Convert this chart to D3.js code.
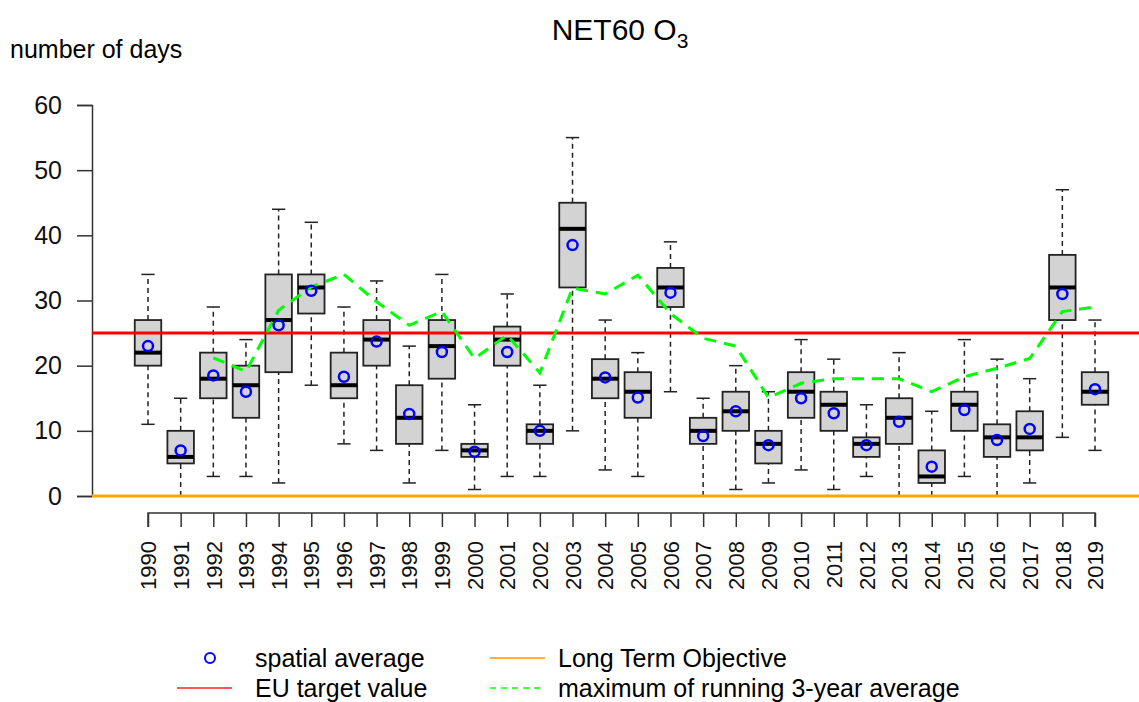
<!DOCTYPE html>
<html>
<head>
<meta charset="utf-8">
<script src="https://cdn.jsdelivr.net/npm/d3@7"></script>
<style>
  body { margin: 0; background: #fff; }
  svg { display: block; font-family: "Liberation Sans", Arial, sans-serif; }
</style>
</head>
<body>
<div id="chart"></div>
<script>
const years = d3.range(1990, 2020);
const whiskerLow = [11, 0, 3, 3, 2, 17, 8, 7, 2, 7, 1, 3, 3, 10, 4, 3, 16, 0, 1, 2, 4, 1, 3, 0, 0, 3, 0, 2, 9, 7];
const q1 =         [20, 5, 15, 12, 19, 28, 15, 20, 8, 18, 6, 20, 8, 32, 15, 12, 29, 8, 10, 5, 12, 10, 6, 8, 2, 10, 6, 7, 27, 14];
const median =     [22, 6, 18, 17, 27, 32, 17, 24, 12, 23, 7, 24, 10, 41, 18, 16, 32, 10, 13, 8, 16, 14, 8, 12, 3, 14, 9, 9, 32, 16];
const q3 =         [27, 10, 22, 20, 34, 34, 22, 27, 17, 27, 8, 26, 11, 45, 21, 19, 35, 12, 16, 10, 19, 16, 9, 15, 7, 16, 11, 13, 37, 19];
const whiskerHigh =[34, 15, 29, 24, 44, 42, 29, 33, 23, 34, 14, 31, 17, 55, 27, 22, 39, 15, 20, 16, 24, 21, 14, 22, 13, 24, 21, 18, 47, 27];
const spatialMean =[23, 7, 18.5, 16, 26.2, 31.5, 18.3, 23.7, 12.6, 22.1, 6.8, 22.1, 10, 38.5, 18.2, 15.1, 31.2, 9.2, 13, 7.8, 15, 12.7, 7.8, 11.4, 4.5, 13.2, 8.6, 10.3, 31, 16.4];
const runMaxYears = d3.range(1992, 2020);
const runMax =     [21.2, 19.1, 28.5, 32.1, 34, 29.8, 26.2, 28.3, 21.1, 24.7, 18.9, 31.9, 31, 33.9, 28, 24.2, 23, 15.1, 17.3, 18, 18, 18, 16, 18.3, 19.6, 21.1, 28.3, 29];
const yTicks = [0, 10, 20, 30, 40, 50, 60];
const euTarget = 25;
const longTerm = 0;

const width = 1139, height = 702;
const svg = d3.select('#chart').append('svg')
  .attr('width', width).attr('height', height);

const x = d3.scalePoint().domain(years).range([148, 1095]);
const y = d3.scaleLinear().domain([0, 60]).range([496, 105]);
const boxW = 26.5;

// title + y label
const title = svg.append('text')
  .attr('x', 620).attr('y', 40)
  .attr('text-anchor', 'middle')
  .attr('font-size', 30)
  .text('NET60 O');
title.append('tspan').attr('font-size', 21).attr('dy', 8).text('3');

svg.append('text').attr('x', 10).attr('y', 58)
  .attr('font-size', 25).text('number of days');

// y axis
const yAxis = svg.append('g').attr('transform', 'translate(92,0)')
  .call(d3.axisLeft(y).tickValues(yTicks).tickSize(15).tickPadding(15));
yAxis.selectAll('path, line').attr('stroke', '#333').attr('stroke-width', 1.5);
yAxis.selectAll('text').attr('font-size', 25).attr('fill', '#111')
  .attr('font-family', '"Liberation Sans", Arial, sans-serif');

// x axis
const xAxis = svg.append('g').attr('transform', 'translate(0,513)')
  .call(d3.axisBottom(x).tickSize(14).tickSizeOuter(0));
xAxis.select('.domain').attr('d', `M${x(1990)},14V0H${x(2019)}V14`);
xAxis.selectAll('path, line').attr('stroke', '#333').attr('stroke-width', 1.5);
xAxis.selectAll('text')
  .attr('font-size', 22).attr('fill', '#111')
  .attr('font-family', '"Liberation Sans", Arial, sans-serif')
  .attr('transform', 'rotate(-90)')
  .attr('text-anchor', 'end')
  .attr('x', -28).attr('y', 0).attr('dy', '0.35em');

// boxplots
const boxes = svg.append('g').selectAll('g').data(years).enter().append('g')
  .attr('transform', d => `translate(${x(d)},0)`);

boxes.append('line')
  .attr('y1', (d, i) => y(whiskerLow[i])).attr('y2', (d, i) => y(q1[i]))
  .attr('stroke', '#222').attr('stroke-width', 1.5).attr('stroke-dasharray', '5,4');
boxes.append('line')
  .attr('y1', (d, i) => y(q3[i])).attr('y2', (d, i) => y(whiskerHigh[i]))
  .attr('stroke', '#222').attr('stroke-width', 1.5).attr('stroke-dasharray', '5,4');
boxes.append('line')
  .attr('x1', -boxW / 4).attr('x2', boxW / 4)
  .attr('y1', (d, i) => y(whiskerLow[i])).attr('y2', (d, i) => y(whiskerLow[i]))
  .attr('stroke', '#222').attr('stroke-width', 1.5);
boxes.append('line')
  .attr('x1', -boxW / 4).attr('x2', boxW / 4)
  .attr('y1', (d, i) => y(whiskerHigh[i])).attr('y2', (d, i) => y(whiskerHigh[i]))
  .attr('stroke', '#222').attr('stroke-width', 1.5);
boxes.append('rect')
  .attr('x', -boxW / 2).attr('width', boxW)
  .attr('y', (d, i) => y(q3[i])).attr('height', (d, i) => y(q1[i]) - y(q3[i]))
  .attr('fill', '#d3d3d3').attr('stroke', '#222').attr('stroke-width', 1.8);
boxes.append('line')
  .attr('x1', -boxW / 2).attr('x2', boxW / 2)
  .attr('y1', (d, i) => y(median[i])).attr('y2', (d, i) => y(median[i]))
  .attr('stroke', '#000').attr('stroke-width', 4);

// reference lines
svg.append('line').attr('x1', 92).attr('x2', width)
  .attr('y1', y(euTarget)).attr('y2', y(euTarget))
  .attr('stroke', '#ff0000').attr('stroke-width', 3);
svg.append('line').attr('x1', 92).attr('x2', width)
  .attr('y1', y(longTerm)).attr('y2', y(longTerm))
  .attr('stroke', '#ffa500').attr('stroke-width', 3);

// running max line
const line = d3.line().x((d, i) => x(runMaxYears[i])).y(d => y(d));
svg.append('path').datum(runMax)
  .attr('d', line).attr('fill', 'none')
  .attr('stroke', '#00ff00').attr('stroke-width', 3)
  .attr('stroke-dasharray', '12,8');

// spatial averages
svg.append('g').selectAll('circle').data(years).enter().append('circle')
  .attr('cx', d => x(d)).attr('cy', (d, i) => y(spatialMean[i]))
  .attr('r', 5).attr('fill', 'none')
  .attr('stroke', '#0000ff').attr('stroke-width', 2.5);

// legend
const legend = svg.append('g').attr('font-size', 25);
legend.append('circle').attr('cx', 210).attr('cy', 658).attr('r', 5)
  .attr('fill', 'none').attr('stroke', '#0000ff').attr('stroke-width', 2);
legend.append('text').attr('x', 255).attr('y', 667).text('spatial average');
legend.append('line').attr('x1', 177).attr('x2', 232).attr('y1', 688).attr('y2', 688)
  .attr('stroke', '#ff5555').attr('stroke-width', 2);
legend.append('text').attr('x', 255).attr('y', 697).text('EU target value');
legend.append('line').attr('x1', 490).attr('x2', 545).attr('y1', 658).attr('y2', 658)
  .attr('stroke', '#ffb040').attr('stroke-width', 2);
legend.append('text').attr('x', 558).attr('y', 667).text('Long Term Objective');
legend.append('line').attr('x1', 490).attr('x2', 545).attr('y1', 688).attr('y2', 688)
  .attr('stroke', '#44ff44').attr('stroke-width', 2).attr('stroke-dasharray', '6,5');
legend.append('text').attr('x', 558).attr('y', 697).text('maximum of running 3-year average');
</script>
</body>
</html>
